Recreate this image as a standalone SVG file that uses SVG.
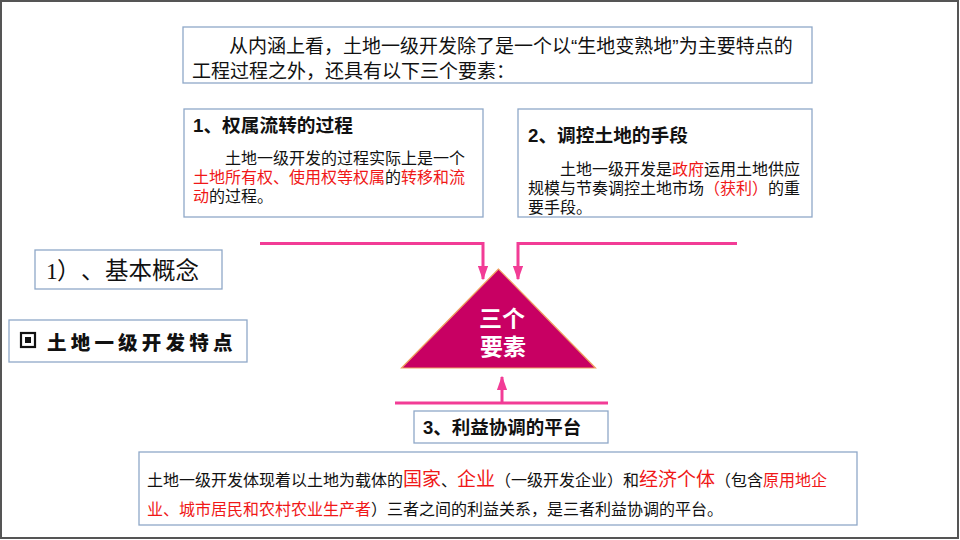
<svg xmlns="http://www.w3.org/2000/svg" width="960" height="540" viewBox="0 0 960 540">
<defs>
<style>
.box{fill:#fff;stroke:#8FA8C8;stroke-width:1.3}
.t{font-family:"Liberation Sans","Noto Sans CJK SC",sans-serif;fill:#111}
.b{font-weight:bold}
.r{fill:#F01818}
.w{fill:#fff;font-weight:bold}
.con{stroke:#F23C96;stroke-width:3;fill:none}
</style>
<marker id="ah" viewBox="0 0 10 10" refX="9" refY="5" markerWidth="4.8" markerHeight="3.4" orient="auto" markerUnits="strokeWidth" preserveAspectRatio="none">
<path d="M0,0 L10,5 L0,10 z" fill="#F23C96"/>
</marker>
</defs>
<rect x="0" y="0" width="960" height="540" fill="#fff"/>
<rect x="1" y="1" width="957" height="537" fill="none" stroke="#555" stroke-width="2"/>

<g id="intro">
<rect class="box" x="183" y="27" width="629" height="56"/>
<text class="t" font-size="19" x="229" y="53">从内涵上看，土地一级开发除了是一个以“生地变熟地”为主要特点的</text>
<text class="t" font-size="19" x="192" y="78">工程过程之外，还具有以下三个要素：</text>
</g>

<g id="elem1">
<rect class="box" x="184" y="109" width="299" height="108"/>
<text class="t b" font-size="18.7" x="193" y="132">1、权属流转的过程</text>
<text class="t" font-size="16" x="225" y="164">土地一级开发的过程实际上是一个</text>
<text class="t" font-size="16" x="193" y="183"><tspan class="r">土地所有权、使用权等权属</tspan>的<tspan class="r">转移和流</tspan></text>
<text class="t" font-size="16" x="193" y="202"><tspan class="r">动</tspan>的过程。</text>
</g>

<g id="elem2">
<rect class="box" x="518" y="109" width="294" height="108"/>
<text class="t b" font-size="18.7" x="528" y="142">2、调控土地的手段</text>
<text class="t" font-size="16" x="560" y="175">土地一级开发是<tspan class="r">政府</tspan>运用土地供应</text>
<text class="t" font-size="16" x="528" y="194">规模与节奏调控土地市场<tspan class="r">（获利）</tspan>的重</text>
<text class="t" font-size="16" x="528" y="213">要手段。</text>
</g>

<g id="concept">
<rect class="box" x="35" y="250" width="187" height="39"/>
<text font-family="'Liberation Serif','Noto Sans CJK SC',serif" font-size="23.5" y="279" fill="#111"><tspan x="46">1</tspan><tspan x="57">）</tspan><tspan x="81">、</tspan><tspan x="105">基本概念</tspan></text>
</g>

<g id="feature">
<rect class="box" x="9" y="320" width="238" height="42"/>
<rect x="21" y="333" width="14" height="14" fill="none" stroke="#111" stroke-width="2.2"/>
<rect x="25" y="337" width="6" height="6" fill="#111"/>
<text class="t" font-size="19.5" font-weight="900" letter-spacing="4.2" x="47" y="350">土地一级开发特点</text>
</g>

<g id="triangle">
<polygon points="498.5,269 401.5,368 595.5,368" fill="#C80063" stroke="#EFA060" stroke-width="1.2"/>
<text class="t w" font-size="23" x="502" y="327" text-anchor="middle">三个</text>
<text class="t w" font-size="23" x="503" y="355" text-anchor="middle">要素</text>
</g>

<g id="elem3">
<rect class="box" x="414" y="411" width="194" height="32"/>
<text class="t b" font-size="18.5" x="423" y="434">3、利益协调的平台</text>
</g>

<g id="detail">
<rect class="box" x="139" y="452" width="718" height="73"/>
<text class="t" font-size="16" x="147" y="486">土地一级开发体现着以土地为载体的<tspan class="r" font-size="19">国家</tspan>、<tspan class="r" font-size="19">企业</tspan>（一级开发企业）和<tspan class="r" font-size="19">经济个体</tspan>（包含<tspan class="r">原用地企</tspan></text>
<text class="t" font-size="16" x="147" y="515"><tspan class="r">业、城市居民和农村农业生产者</tspan>）三者之间的利益关系，是三者利益协调的平台。</text>
</g>

<g id="connectors">
<polyline class="con" points="260,243.5 483,243.5 483,279" marker-end="url(#ah)"/>
<polyline class="con" points="737,243.5 518,243.5 518,279" marker-end="url(#ah)"/>
<line class="con" x1="395" y1="403" x2="608" y2="403"/>
<line class="con" x1="502" y1="403" x2="502" y2="377" marker-end="url(#ah)"/>
</g>
</svg>
